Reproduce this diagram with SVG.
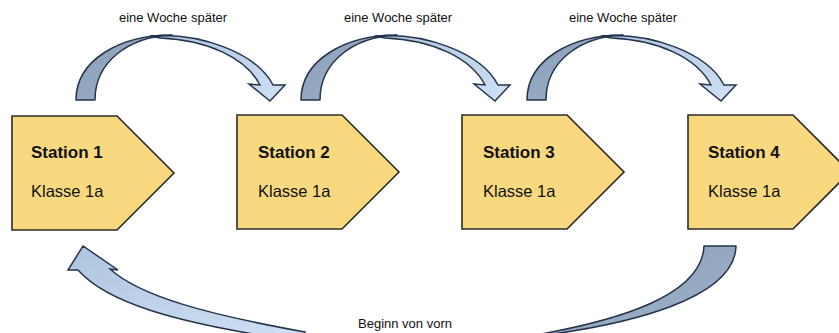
<svg xmlns="http://www.w3.org/2000/svg" width="839" height="333" viewBox="0 0 839 333">
<defs>
<style>
.st{fill:#f9d97f;stroke:#2b2b2b;stroke-width:1.6;stroke-linejoin:miter}
.t1{font-family:"Liberation Sans",Arial,sans-serif;font-weight:bold;font-size:17px;fill:#111}
.t2{font-family:"Liberation Sans",Arial,sans-serif;font-size:16.5px;fill:#111}
.lb{font-family:"Liberation Sans",Arial,sans-serif;font-size:13px;fill:#111;text-anchor:middle}
.dk{fill:url(#gd);stroke:#24344a;stroke-width:1.5;stroke-linejoin:round}
.lt{fill:url(#gl);stroke:#24344a;stroke-width:1.5;stroke-linejoin:miter}
</style>
<linearGradient id="gd" x1="0" y1="0" x2="1" y2="1">
<stop offset="0" stop-color="#8b9fb8"/><stop offset="1" stop-color="#9db1c9"/>
</linearGradient>
<linearGradient id="gl" x1="0" y1="0" x2="1" y2="1">
<stop offset="0" stop-color="#aec4de"/><stop offset="1" stop-color="#d0e1f5"/>
</linearGradient>
<g id="arc">
<path class="lt" d="M150,36 C198,32 256,52 273,85 L285,85 L270,101 L249,84 L260,85 C246,58 208,40 160,38 Z"/>
<path class="dk" d="M76,100 C76,60 120,35 172,35 C128,37 95,62 95,100 Z"/>
</g>
</defs>
<rect width="839" height="333" fill="#ffffff"/>
<g id="connectors">
<use href="#arc"/>
<use href="#arc" transform="translate(225,0)"/>
<use href="#arc" transform="translate(451,0)"/>
<path class="lt" d="M78,270 L68,270 L83,246 L118,270 L110,269 C140,296 205,314 305,332 L300,340 L265,336 C180,322 108,304 78,270 Z"/>
<path class="dk" d="M704,246 L736,246 C735,296 640,326 505,340 C625,322 702,294 704,246 Z"/>
<text class="lb" x="173" y="22">eine Woche später</text>
<text class="lb" x="398" y="22">eine Woche später</text>
<text class="lb" x="623" y="22">eine Woche später</text>
<text class="lb" x="405" y="328">Beginn von vorn</text>
</g>
<g id="station1">
<path class="st" d="M12,116 L117,116 L174,173 L117,230 L12,230 Z"/>
<text class="t1" x="31" y="158">Station 1</text>
<text class="t2" x="31" y="197">Klasse 1a</text>
</g>
<g id="station2">
<path class="st" d="M237,115 L342,115 L399,172 L342,229 L237,229 Z"/>
<text class="t1" x="258" y="158">Station 2</text>
<text class="t2" x="258" y="197">Klasse 1a</text>
</g>
<g id="station3">
<path class="st" d="M462,115 L567,115 L624,172 L567,229 L462,229 Z"/>
<text class="t1" x="483" y="158">Station 3</text>
<text class="t2" x="483" y="197">Klasse 1a</text>
</g>
<g id="station4">
<path class="st" d="M688,115 L793,115 L850,172 L793,229 L688,229 Z"/>
<text class="t1" x="708" y="158">Station 4</text>
<text class="t2" x="708" y="197">Klasse 1a</text>
</g>
</svg>
